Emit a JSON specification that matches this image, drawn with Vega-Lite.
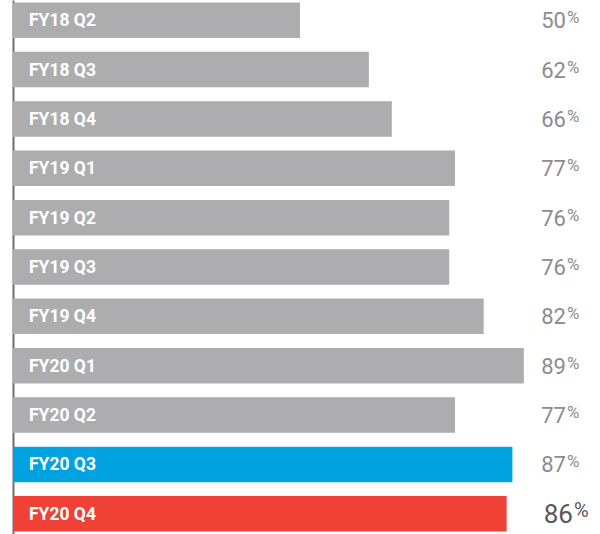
{
  "$schema": "https://vega.github.io/schema/vega-lite/v6.json",
  "autosize": {"type": "none"},
  "width": 574,
  "height": 534,
  "padding": {"left": 13, "top": 0, "right": 13, "bottom": 0},
  "background": "white",
  "config": {"view": {"stroke": null}, "font": "Roboto"},
  "data": {
    "values": [
      {"period": "FY18 Q2", "value": 50},
      {"period": "FY18 Q3", "value": 62},
      {"period": "FY18 Q4", "value": 66},
      {"period": "FY19 Q1", "value": 77},
      {"period": "FY19 Q2", "value": 76},
      {"period": "FY19 Q3", "value": 76},
      {"period": "FY19 Q4", "value": 82},
      {"period": "FY20 Q1", "value": 89},
      {"period": "FY20 Q2", "value": 77},
      {"period": "FY20 Q3", "value": 87},
      {"period": "FY20 Q4", "value": 86}
    ]
  },
  "encoding": {
    "y": {
      "field": "period",
      "type": "nominal",
      "sort": null,
      "scale": {"paddingInner": 0.281, "paddingOuter": 0.05},
      "axis": {"title": null, "labels": false, "ticks": false, "domainColor": "#6d6d6f", "domainWidth": 2}
    }
  },
  "layer": [
    {
      "mark": {"type": "bar"},
      "encoding": {
        "x": {"field": "value", "type": "quantitative", "scale": {"domain": [0, 100], "nice": false}, "axis": null},
        "color": {
          "field": "period",
          "type": "nominal",
          "sort": null,
          "legend": null,
          "scale": {
            "domain": ["FY18 Q2","FY18 Q3","FY18 Q4","FY19 Q1","FY19 Q2","FY19 Q3","FY19 Q4","FY20 Q1","FY20 Q2","FY20 Q3","FY20 Q4"],
            "range": ["#adadb0","#adadb0","#adadb0","#adadb0","#adadb0","#adadb0","#adadb0","#adadb0","#adadb0","#00a3e0","#ef4136"]
          }
        }
      }
    },
    {
      "mark": {"type": "text", "align": "left", "baseline": "middle", "dx": 16, "dy": 1, "fontSize": 17.5, "fontWeight": "bold", "color": "white"},
      "encoding": {
        "x": {"datum": 0, "type": "quantitative"},
        "text": {"field": "period"}
      }
    },
    {
      "transform": [{"filter": "datum.period !== 'FY20 Q4'"}],
      "mark": {"type": "text", "align": "right", "baseline": "middle", "dy": 1, "fontSize": 22, "color": "#8c8c8e"},
      "encoding": {
        "x": {"datum": 96.34, "type": "quantitative"},
        "text": {"field": "value"}
      }
    },
    {
      "transform": [{"filter": "datum.period !== 'FY20 Q4'"}],
      "mark": {"type": "text", "align": "left", "baseline": "middle", "dx": 1, "dy": -2, "fontSize": 17, "color": "#8c8c8e", "text": "%"},
      "encoding": {
        "x": {"datum": 96.34, "type": "quantitative"}
      }
    },
    {
      "transform": [{"filter": "datum.period === 'FY20 Q4'"}],
      "mark": {"type": "text", "align": "right", "baseline": "middle", "dx": 7, "dy": 1, "fontSize": 26, "color": "#58585a"},
      "encoding": {
        "x": {"datum": 96.34, "type": "quantitative"},
        "text": {"field": "value"}
      }
    },
    {
      "transform": [{"filter": "datum.period === 'FY20 Q4'"}],
      "mark": {"type": "text", "align": "left", "baseline": "middle", "dx": 8, "dy": -3, "fontSize": 20, "color": "#58585a", "text": "%"},
      "encoding": {
        "x": {"datum": 96.34, "type": "quantitative"}
      }
    }
  ]
}
